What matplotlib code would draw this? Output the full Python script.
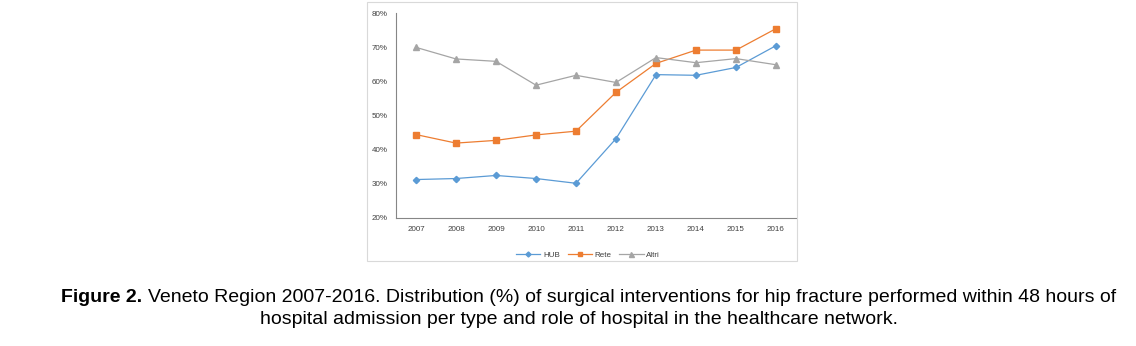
import matplotlib.pyplot as plt
from matplotlib.patches import Rectangle

plt.rcParams['font.family'] = ['Liberation Sans', 'DejaVu Sans']

years = ['2007', '2008', '2009', '2010', '2011', '2012', '2013', '2014', '2015', '2016']
hub = [31.2, 31.5, 32.4, 31.5, 30.1, 43.2, 62.0, 61.8, 64.1, 70.5]
rete = [44.4, 41.9, 42.7, 44.3, 45.4, 56.8, 65.3, 69.2, 69.2, 75.5]
altri = [70.0, 66.6, 65.9, 58.9, 61.8, 59.7, 67.0, 65.5, 66.7, 64.9]
yticks = [20, 30, 40, 50, 60, 70, 80]

W, H = 1136, 346
fig = plt.figure(figsize=(W / 100, H / 100), dpi=100)
fig.patch.set_facecolor('white')

# outer chart frame
fig.patches.append(Rectangle((367 / W, 1 - 261 / H), 430 / W, 259 / H,
                             transform=fig.transFigure, fill=False,
                             edgecolor='#d9d9d9', linewidth=0.8))

ax = fig.add_axes([396 / W, 1 - 217.7 / H, 400 / W, 204.4 / H])
x = range(len(years))
ax.plot(x, hub, '-D', color='#5b9bd5', lw=0.9, ms=3.2, label='HUB')
ax.plot(x, rete, '-s', color='#ed7d31', lw=0.9, ms=4.2, label='Rete')
ax.plot(x, altri, '-^', color='#a5a5a5', lw=0.9, ms=4.5, label='Altri')

ax.set_xlim(-0.5, len(years) - 0.5)
ax.set_ylim(20, 80)
ax.set_xticks(list(x))
ax.set_xticklabels(years)
ax.set_yticks(yticks)
ax.set_yticklabels([f'{v}%' for v in yticks])
ax.tick_params(length=0, labelsize=5.8, labelcolor='#404040', pad=6)
for s in ['top', 'right']:
    ax.spines[s].set_visible(False)
for s in ['left', 'bottom']:
    ax.spines[s].set_color('#868686')
    ax.spines[s].set_linewidth(0.8)

ax.legend(loc='upper center', bbox_to_anchor=(0.48, -0.13), ncol=3, frameon=False,
          fontsize=5.8, handlelength=3.0, columnspacing=1.0, handletextpad=0.3,
          markerscale=0.8, labelcolor='#404040')

# caption: bold label followed by normal text
y1 = 1 - 298 / H
fig.text(142 / W, y1, 'Figure 2.', ha='right', va='center',
         fontsize=14, fontweight='bold')
fig.text(148 / W, y1,
         'Veneto Region 2007-2016. Distribution (%) of surgical interventions for hip fracture performed within 48 hours of',
         ha='left', va='center', fontsize=14)
fig.text(578.5 / W, 1 - 320 / H,
         'hospital admission per type and role of hospital in the healthcare network.',
         ha='center', va='center', fontsize=14)

fig.savefig('out.png', dpi=100)
